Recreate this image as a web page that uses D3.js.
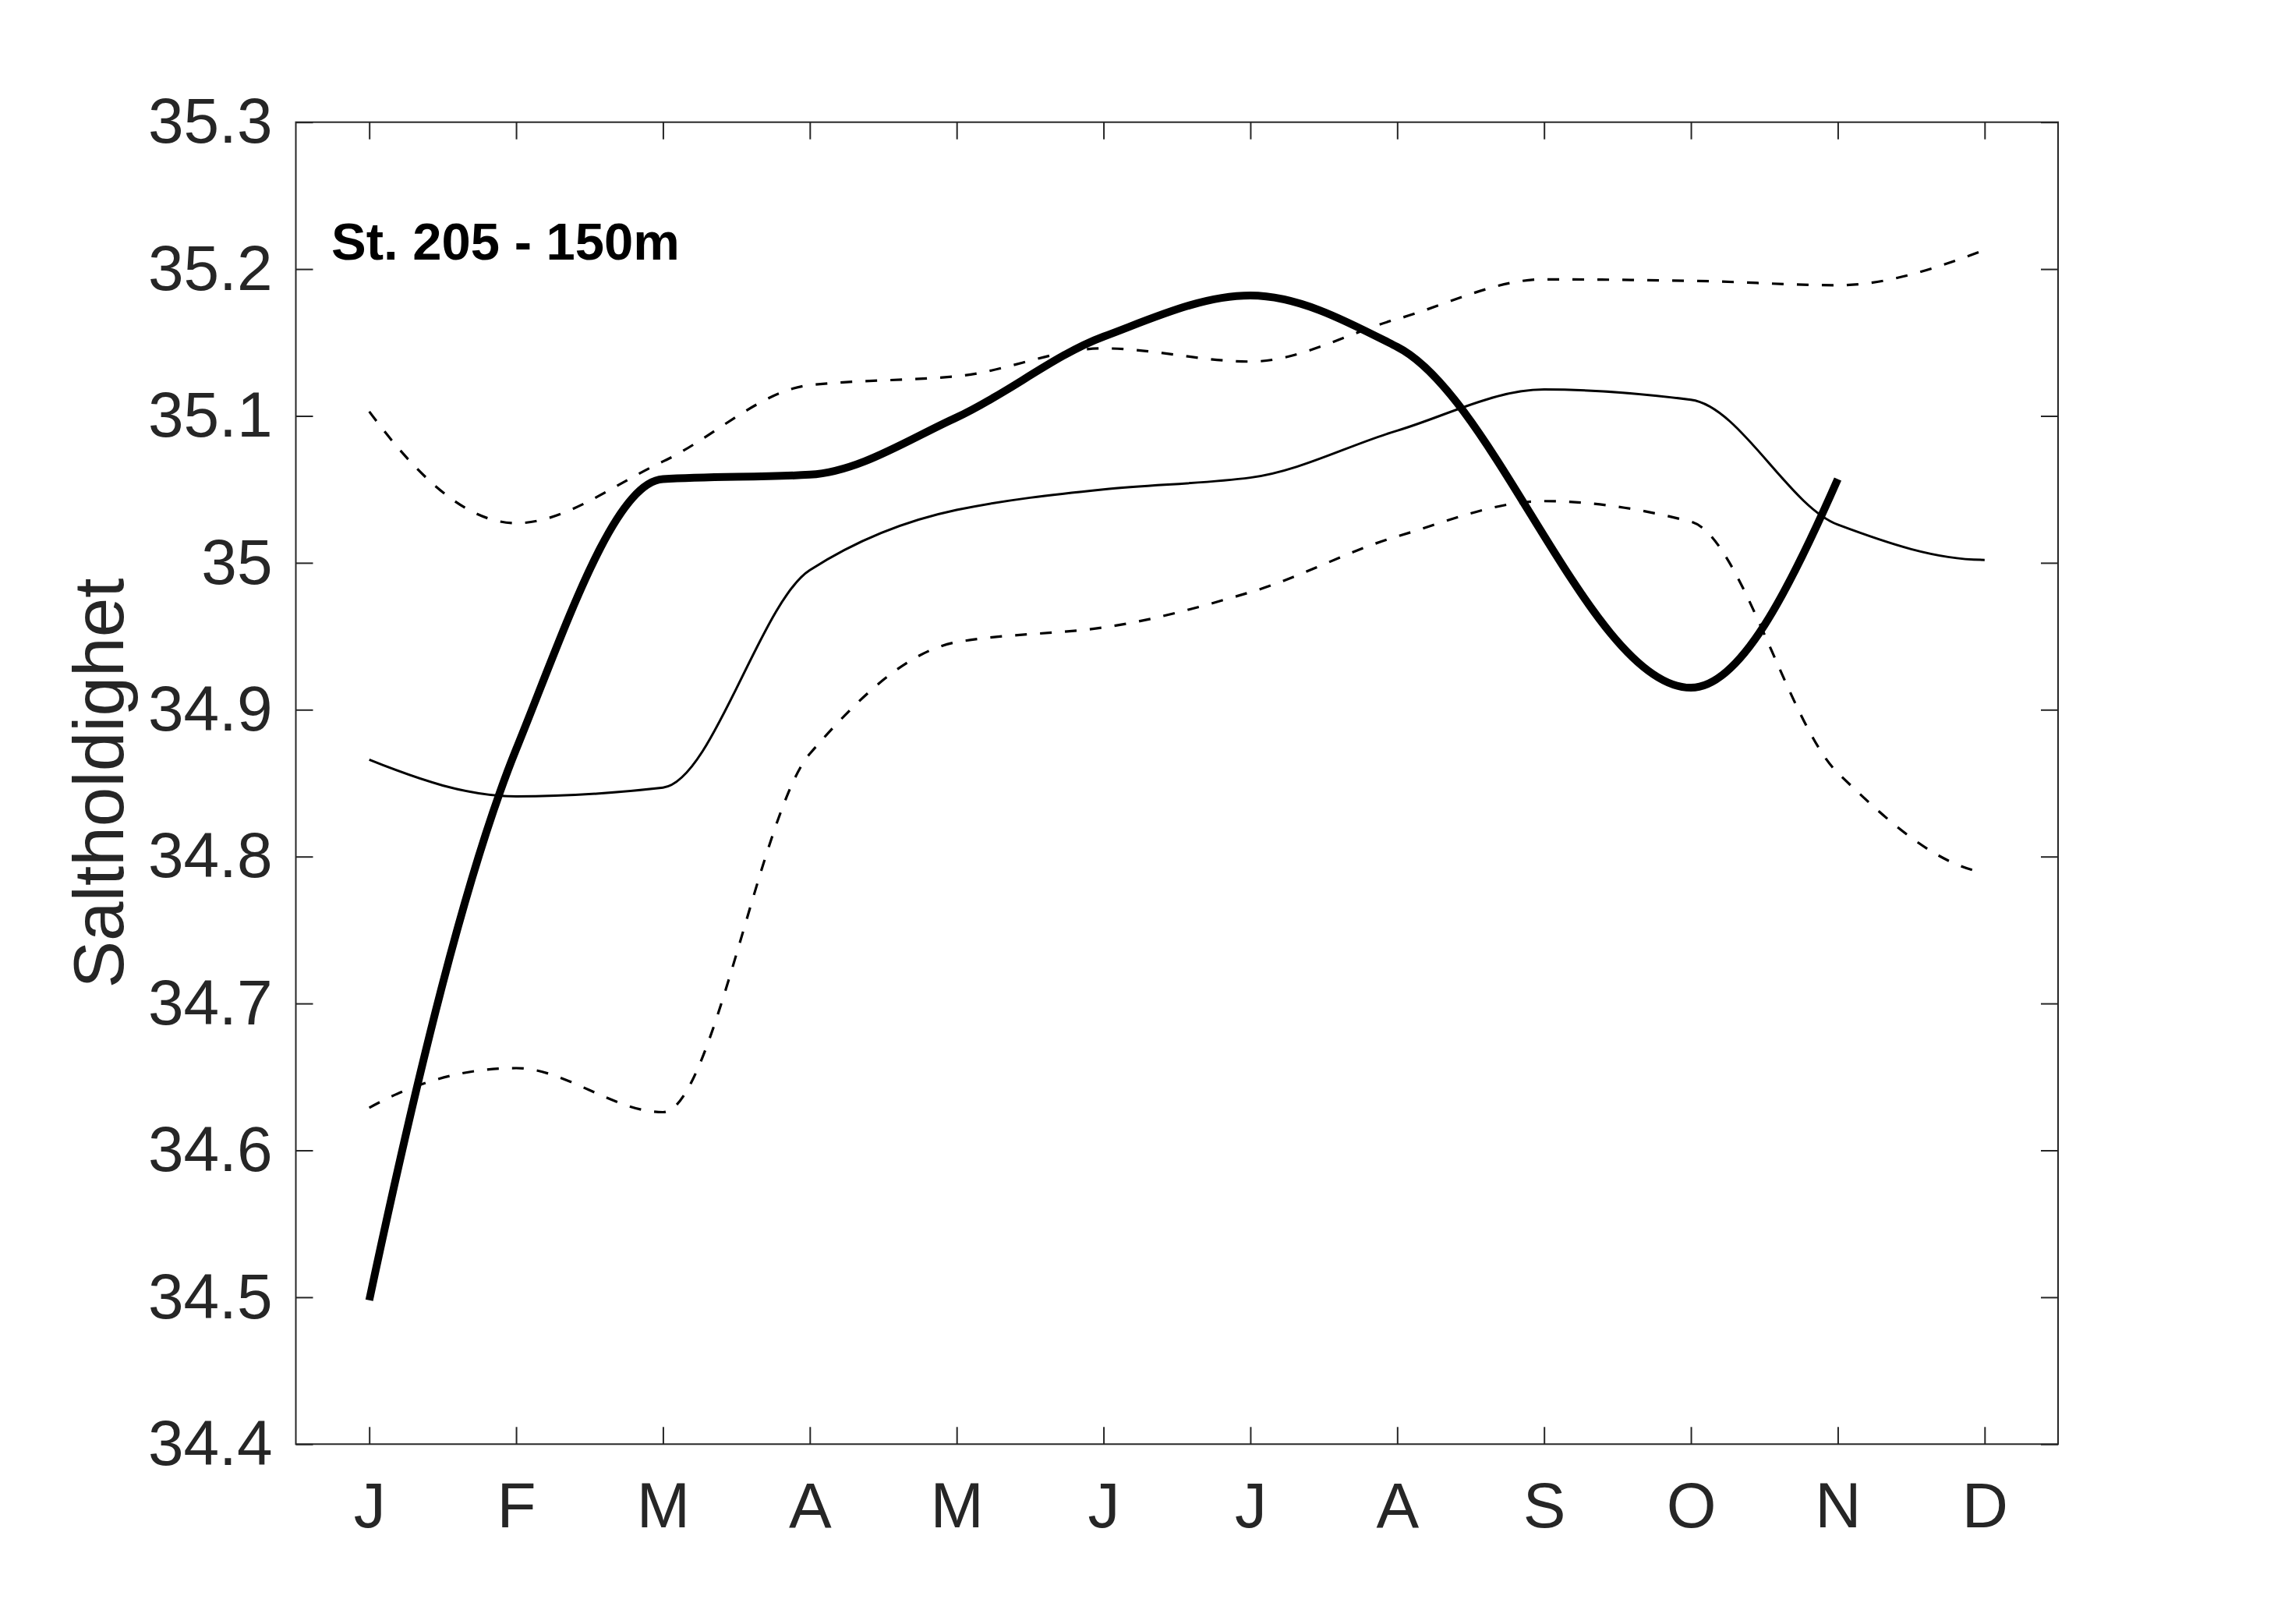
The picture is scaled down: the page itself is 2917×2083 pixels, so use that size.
<!DOCTYPE html>
<html>
<head>
<meta charset="utf-8">
<script src="https://cdn.jsdelivr.net/npm/d3@7"></script>
<style>
  body { margin: 0; background: #fff; }
  svg { display: block; font-family: "Liberation Sans", Arial, Helvetica, sans-serif; }
</style>
</head>
<body>
<svg id="chart" width="2917" height="2083"></svg>
<script>
// month labels and positions (1..12)
const months = ["J", "F", "M", "A", "M", "J", "J", "A", "S", "O", "N", "D"];
const monthIdx = [1, 2, 3, 4, 5, 6, 7, 8, 9, 10, 11, 12];
const yTicks = [34.4, 34.5, 34.6, 34.7, 34.8, 34.9, 35.0, 35.1, 35.2, 35.3];

// selected year, observed months only (no september sample)
const yearMonths = [1, 2, 3, 4, 5, 6, 7, 8, 10, 11];
const yearVals = [34.498, 34.873, 35.057, 35.060, 35.099, 35.154, 35.182, 35.147, 34.915, 35.057];
// monthly mean
const meanVals = [34.866, 34.841, 34.847, 34.995, 35.036, 35.050, 35.058, 35.090, 35.118, 35.111, 35.026, 35.002];
// mean + std
const upperVals = [35.103, 35.027, 35.069, 35.121, 35.127, 35.146, 35.137, 35.166, 35.193, 35.192, 35.189, 35.213];
// mean - std
const lowerVals = [34.629, 34.656, 34.626, 34.870, 34.946, 34.956, 34.980, 35.018, 35.042, 35.028, 34.857, 34.789];

let m = { left: 379.5, right: 277, top: 156.7, bottom: 230.7 };
let svg = d3.select("#chart");
let width = +svg.attr("width") - m.left - m.right;
let height = +svg.attr("height") - m.top - m.bottom;

let g = svg.append("g").attr("transform", `translate(${m.left},${m.top})`);

let x = d3.scaleLinear().domain([0.5, 12.5]).range([0, width]);
let y = d3.scaleLinear().domain([34.4, 35.3]).range([height, 0]);

const axisColor = "#262626";

function styleAxis(sel) {
    sel.select(".domain").remove();
    sel.selectAll(".tick line").attr("stroke", axisColor).attr("stroke-width", 2);
    sel.selectAll(".tick text").attr("fill", axisColor).attr("font-size", 82);
}

// pchip-style curve (shape preserving cubic, like matlab's pchip)
function curvePchip(context) {
    let pts = [];
    return {
        areaStart() {}, areaEnd() {},
        lineStart() { pts = []; },
        point(px, py) { pts.push([+px, +py]); },
        lineEnd() {
            let n = pts.length;
            if (!n) return;
            context.moveTo(pts[0][0], pts[0][1]);
            if (n < 3) { if (n == 2) context.lineTo(pts[1][0], pts[1][1]); return; }
            let h = [], s = [];
            for (let i = 0; i < n - 1; i++) {
                h.push(pts[i + 1][0] - pts[i][0]);
                s.push((pts[i + 1][1] - pts[i][1]) / h[i]);
            }
            let d = new Array(n).fill(0);
            for (let i = 1; i < n - 1; i++) {
                if (s[i - 1] * s[i] > 0) {
                    let w1 = 2 * h[i] + h[i - 1], w2 = h[i] + 2 * h[i - 1];
                    d[i] = (w1 + w2) / (w1 / s[i - 1] + w2 / s[i]);
                }
            }
            function endSlope(h0, h1, s0, s1) {
                let e = ((2 * h0 + h1) * s0 - h0 * s1) / (h0 + h1);
                if (Math.sign(e) != Math.sign(s0)) e = 0;
                else if (Math.sign(s0) != Math.sign(s1) && Math.abs(e) > Math.abs(3 * s0)) e = 3 * s0;
                return e;
            }
            d[0] = endSlope(h[0], h[1], s[0], s[1]);
            d[n - 1] = endSlope(h[n - 2], h[n - 3], s[n - 2], s[n - 3]);
            for (let i = 0; i < n - 1; i++) {
                let dx = h[i] / 3;
                context.bezierCurveTo(
                    pts[i][0] + dx, pts[i][1] + d[i] * dx,
                    pts[i + 1][0] - dx, pts[i + 1][1] - d[i + 1] * dx,
                    pts[i + 1][0], pts[i + 1][1]);
            }
        }
    };
}

// bottom axis with labels
g.append("g")
    .attr("transform", `translate(0,${height})`)
    .call(d3.axisBottom(x).tickValues(monthIdx).tickSize(-22).tickPadding(48)
        .tickFormat((d, i) => months[i]))
    .call(styleAxis);

// top axis, ticks only
g.append("g")
    .call(d3.axisTop(x).tickValues(monthIdx).tickSize(-22).tickFormat(""))
    .call(styleAxis);

// left axis with labels
g.append("g")
    .call(d3.axisLeft(y).tickValues(yTicks).tickSize(-22).tickPadding(30)
        .tickFormat(d => String(+d.toFixed(1))))
    .call(styleAxis);

// right axis, ticks only
g.append("g")
    .attr("transform", `translate(${width},0)`)
    .call(d3.axisRight(y).tickValues(yTicks).tickSize(-22).tickFormat(""))
    .call(styleAxis);

// frame
g.append("rect")
    .attr("width", width)
    .attr("height", height)
    .attr("fill", "none")
    .attr("stroke", axisColor)
    .attr("stroke-width", 2);

function drawLine(xs, vals, w, dash) {
    let line = d3.line()
        .x((d, i) => x(xs[i]))
        .y(d => y(d))
        .curve(curvePchip);
    g.append("path")
        .datum(vals)
        .attr("d", line)
        .attr("fill", "none")
        .attr("stroke", "#000")
        .attr("stroke-width", w)
        .attr("stroke-dasharray", dash)
        .attr("stroke-linejoin", "round");
}

drawLine(monthIdx, upperVals, 3.2, "15 17");
drawLine(monthIdx, lowerVals, 3.2, "15 17");
drawLine(monthIdx, meanVals, 3, null);
drawLine(yearMonths, yearVals, 10, null);

// station label
g.append("text")
    .attr("x", 425 - m.left)
    .attr("y", 333 - m.top)
    .attr("font-size", 67)
    .attr("font-weight", "bold")
    .attr("fill", "#000")
    .text("St. 205 - 150m");

// y axis title
svg.append("text")
    .attr("transform", `translate(158,${m.top + height / 2}) rotate(-90)`)
    .attr("text-anchor", "middle")
    .attr("font-size", 91)
    .attr("fill", axisColor)
    .text("Saltholdighet");
</script>
</body>
</html>
